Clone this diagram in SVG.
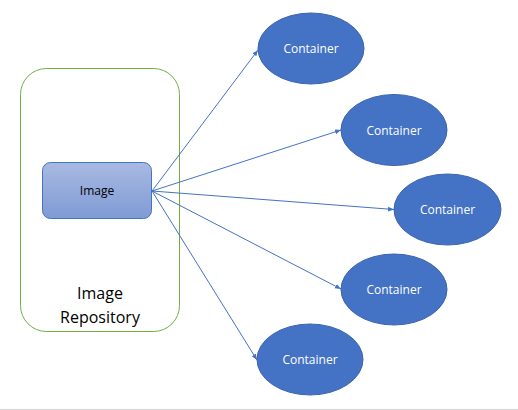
<svg xmlns="http://www.w3.org/2000/svg" width="518" height="410" viewBox="0 0 518 410">
<defs>
<linearGradient id="g" x1="0" y1="0" x2="0" y2="1">
<stop offset="0" stop-color="#a9b9e1"/>
<stop offset="1" stop-color="#7f9bd5"/>
</linearGradient>
<marker id="ah" viewBox="0 0 10 10" refX="10" refY="5" markerWidth="6" markerHeight="6" orient="auto" markerUnits="userSpaceOnUse">
<path d="M0,1 L10,5 L0,9 z" fill="#4472c4"/>
</marker>
<style>
.c{fill:#4472c4;stroke:#3a64ad;stroke-width:1}
.ct{font-family:"Open Sans","Liberation Sans",sans-serif;font-size:12px;fill:#fff;text-anchor:middle}
.ln{stroke:#4472c4;stroke-width:1;fill:none;marker-end:url(#ah)}
</style>
</defs>
<rect width="518" height="410" fill="#fff"/>
<line x1="0" y1="409.5" x2="518" y2="409.5" stroke="#d4d4d4"/>
<g id="repository">
<rect x="20.5" y="68.5" width="159" height="263" rx="26" fill="none" stroke="#70ad47" stroke-width="1"/>
<text x="100" y="299" font-family="'Open Sans','Liberation Sans',sans-serif" font-size="16" text-anchor="middle" fill="#000">Image</text>
<text x="100" y="323" font-family="'Open Sans','Liberation Sans',sans-serif" font-size="16" text-anchor="middle" fill="#000">Repository</text>
</g>
<g id="image">
<rect x="42.5" y="162.5" width="109" height="56" rx="8" fill="url(#g)" stroke="#4472c4" stroke-width="1"/>
<text x="97" y="195" font-family="'Open Sans','Liberation Sans',sans-serif" font-size="12" text-anchor="middle" fill="#000">Image</text>
</g>
<g id="connectors">
<line class="ln" x1="152" y1="191" x2="258" y2="50"/>
<line class="ln" x1="152" y1="191" x2="341" y2="130"/>
<line class="ln" x1="152" y1="191" x2="394" y2="209.5"/>
<line class="ln" x1="152" y1="191" x2="341" y2="289"/>
<line class="ln" x1="152" y1="191" x2="257" y2="360"/>
</g>
<g id="container1"><ellipse class="c" cx="311" cy="48.5" rx="53" ry="35.5"/><text class="ct" x="311" y="53">Container</text></g>
<g id="container2"><ellipse class="c" cx="394" cy="130" rx="53" ry="35.5"/><text class="ct" x="394" y="134.5">Container</text></g>
<g id="container3"><ellipse class="c" cx="447.5" cy="209.5" rx="53.5" ry="35.5"/><text class="ct" x="447.5" y="214">Container</text></g>
<g id="container4"><ellipse class="c" cx="394" cy="289.5" rx="53" ry="35.5"/><text class="ct" x="394" y="294">Container</text></g>
<g id="container5"><ellipse class="c" cx="310" cy="359.5" rx="53" ry="35.5"/><text class="ct" x="310" y="364">Container</text></g>
</svg>
